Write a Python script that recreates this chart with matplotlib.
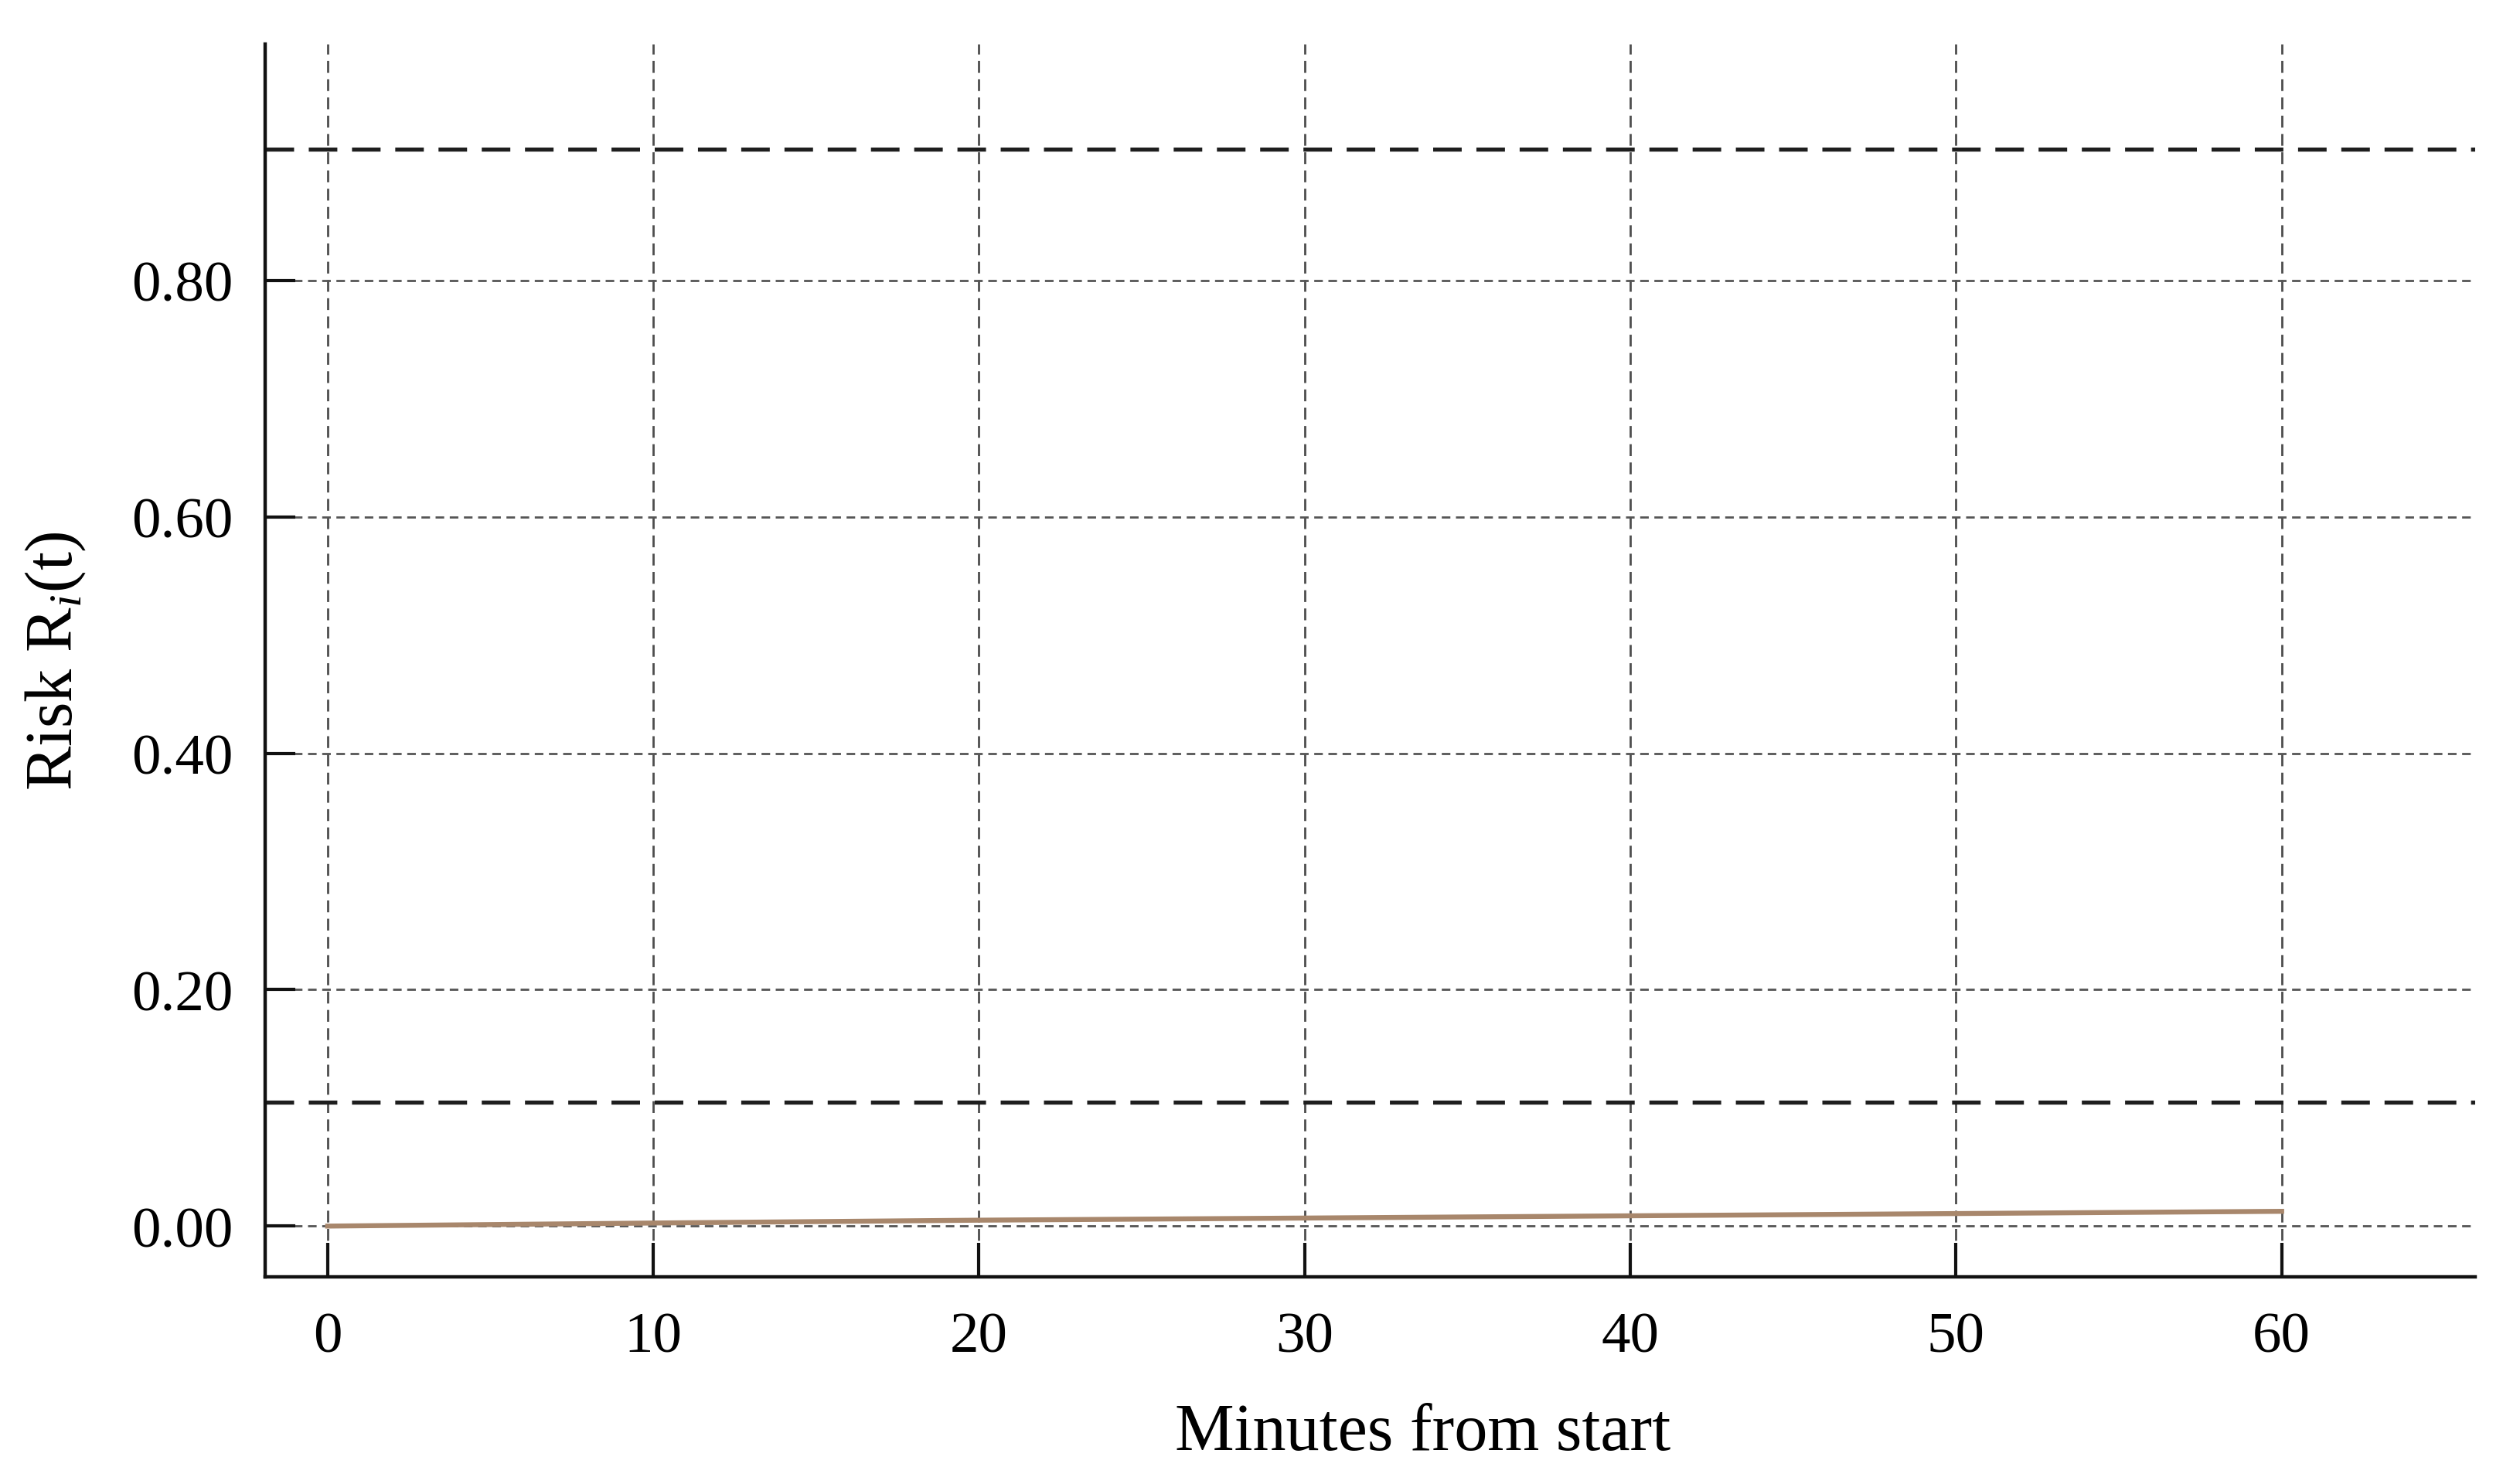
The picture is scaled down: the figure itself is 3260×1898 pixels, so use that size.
import matplotlib
matplotlib.use("Agg")
import matplotlib.pyplot as plt
from matplotlib.ticker import FormatStrFormatter

# --- data ---
minutes = [0, 10, 20, 30, 40, 50, 60]
risk = [0.0, 0.0026, 0.0050, 0.0068, 0.0087, 0.0106, 0.0125]
thresholds = [0.911, 0.105]
x_ticks = [0, 10, 20, 30, 40, 50, 60]
y_ticks = [0.0, 0.2, 0.4, 0.6, 0.8]

plt.rcParams.update({
    "font.family": ["Liberation Serif", "DejaVu Serif"],
    "mathtext.fontset": "custom",
    "mathtext.rm": "Liberation Serif",
    "mathtext.it": "Liberation Serif:italic",
})

fig = plt.figure(figsize=(16.3, 9.495), dpi=200)
ax = fig.add_axes([0.1052, 0.1295, 0.877, 0.840])

# grid
for x in x_ticks:
    ax.axvline(x, color="#4d4d4d", lw=1.0, dashes=(5.5, 3), zorder=1)
for y in y_ticks:
    ax.axhline(y, color="#555555", lw=1.0, dashes=(4, 2.6), zorder=1)

# threshold lines
for th in thresholds:
    ax.axhline(th, color="#1e1e1e", lw=1.9, dashes=(7, 3.6), zorder=2)

ax.plot(minutes, risk, color="#a8876c", lw=2.3, zorder=3)

ax.set_xlim(-1.92, 65.94)
ax.set_ylim(-0.043, 1.0)
ax.set_xticks(x_ticks)
ax.set_yticks(y_ticks)
ax.yaxis.set_major_formatter(FormatStrFormatter("%.2f"))

for s in ["top", "right"]:
    ax.spines[s].set_visible(False)
for s in ["left", "bottom"]:
    ax.spines[s].set_linewidth(1.6)
    ax.spines[s].set_color("#111111")

ax.tick_params(axis="x", direction="in", length=16, width=1.5, pad=16,
               labelsize=27, color="#111111")
ax.tick_params(axis="y", direction="in", length=14, width=1.5, pad=15,
               labelsize=27, color="#111111")

ax.set_xlabel("Minutes from start", fontsize=31, labelpad=18)
ax.xaxis.label.set_x(0.524)
ax.set_ylabel(r"Risk R$_{\mathit{i}}$(t)", fontsize=31, labelpad=20)

fig.savefig("out.png", dpi=200)
